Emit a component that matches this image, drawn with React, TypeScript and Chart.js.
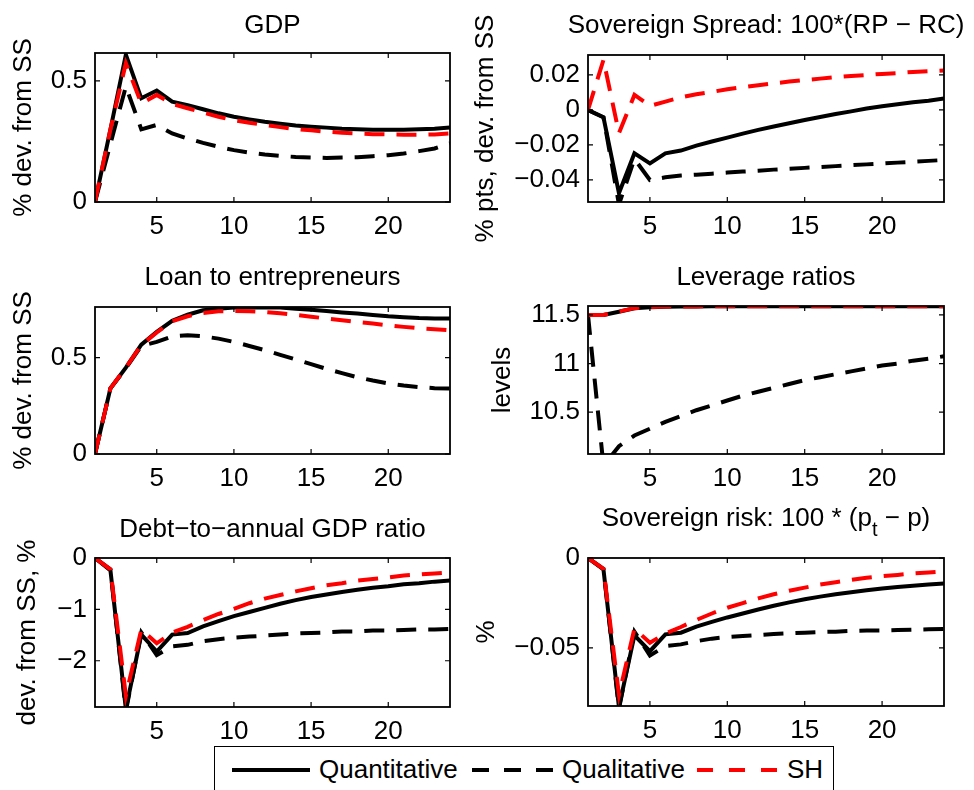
import { useEffect, useRef } from "react";
import { Chart, registerables } from "chart.js";

Chart.register(...registerables);

// ---------------- data ----------------
const periods = [1, 2, 3, 4, 5, 6, 7, 8, 9, 10, 11, 12, 13, 14, 15, 16, 17, 18, 19, 20, 21, 22, 23, 24];
const xTicks = [5, 10, 15, 20];

const gdpQuant = [0, 0.30, 0.608, 0.428, 0.46, 0.414, 0.40, 0.383, 0.366, 0.352, 0.341, 0.331, 0.323, 0.316, 0.311, 0.307, 0.302, 0.30, 0.298, 0.298, 0.298, 0.30, 0.302, 0.308];
const gdpQual = [0, 0.24, 0.477, 0.30, 0.318, 0.283, 0.262, 0.244, 0.228, 0.214, 0.204, 0.196, 0.19, 0.186, 0.184, 0.182, 0.184, 0.185, 0.189, 0.193, 0.20, 0.21, 0.221, 0.242];
const gdpSH = [0, 0.30, 0.573, 0.407, 0.442, 0.405, 0.387, 0.369, 0.352, 0.338, 0.327, 0.318, 0.309, 0.301, 0.296, 0.29, 0.286, 0.283, 0.28, 0.279, 0.278, 0.278, 0.279, 0.283];
const gdpTicks = [0, 0.5];
const gdpRange = [0, 0.615];

const spreadQuant = [0, -0.0042, -0.0476, -0.0248, -0.0305, -0.0248, -0.0232, -0.0204, -0.018, -0.0158, -0.0135, -0.0114, -0.0095, -0.0076, -0.0057, -0.004, -0.0023, -0.0008, 0.0008, 0.0021, 0.0032, 0.0044, 0.0053, 0.0065];
const spreadQual = [0, -0.0042, -0.054, -0.028, -0.040, -0.0385, -0.0375, -0.037, -0.0364, -0.0358, -0.0352, -0.0347, -0.0341, -0.0336, -0.0331, -0.0326, -0.0321, -0.0316, -0.0311, -0.0306, -0.0301, -0.0296, -0.0291, -0.0286];
const spreadSH = [0, 0.0286, -0.0133, 0.0086, 0.0023, 0.0048, 0.0072, 0.009, 0.0103, 0.0118, 0.013, 0.0141, 0.0152, 0.0162, 0.0171, 0.0179, 0.0187, 0.0194, 0.02, 0.0206, 0.0211, 0.0217, 0.0221, 0.0225];
const spreadTicks = [-0.04, -0.02, 0, 0.02];
const spreadRange = [-0.0526, 0.0314];

const loanQuant = [0, 0.34, 0.448, 0.567, 0.633, 0.69, 0.722, 0.745, 0.753, 0.759, 0.76, 0.76, 0.759, 0.753, 0.748, 0.741, 0.734, 0.728, 0.721, 0.714, 0.709, 0.705, 0.703, 0.703];
const loanQual = [0, 0.34, 0.445, 0.56, 0.581, 0.61, 0.616, 0.61, 0.598, 0.581, 0.56, 0.538, 0.514, 0.49, 0.466, 0.441, 0.419, 0.398, 0.381, 0.366, 0.355, 0.347, 0.341, 0.34];
const loanSH = [0, 0.34, 0.448, 0.565, 0.63, 0.688, 0.714, 0.731, 0.74, 0.741, 0.74, 0.736, 0.729, 0.721, 0.712, 0.702, 0.693, 0.684, 0.676, 0.667, 0.659, 0.652, 0.647, 0.641];
const loanTicks = [0, 0.5];
const loanRange = [0, 0.762];

const levQuant = [11.5, 11.5, 11.533, 11.568, 11.58, 11.585, 11.587, 11.588, 11.589, 11.589, 11.589, 11.589, 11.589, 11.589, 11.589, 11.589, 11.589, 11.589, 11.589, 11.589, 11.589, 11.589, 11.589, 11.589];
const levQual = [11.5, 9.95, 10.15, 10.26, 10.33, 10.40, 10.46, 10.52, 10.57, 10.62, 10.67, 10.71, 10.75, 10.79, 10.83, 10.86, 10.89, 10.92, 10.95, 10.98, 11.0, 11.03, 11.05, 11.075];
const levSH = [11.5, 11.5, 11.535, 11.57, 11.582, 11.586, 11.587, 11.588, 11.589, 11.589, 11.589, 11.589, 11.589, 11.589, 11.589, 11.589, 11.589, 11.589, 11.589, 11.589, 11.589, 11.589, 11.589, 11.589];
const levTicks = [10.5, 11, 11.5];
const levRange = [10.07, 11.592];

const debtQuant = [0, -0.24, -2.94, -1.49, -1.82, -1.49, -1.46, -1.33, -1.23, -1.13, -1.05, -0.97, -0.89, -0.82, -0.76, -0.71, -0.66, -0.62, -0.58, -0.55, -0.51, -0.49, -0.46, -0.44];
const debtQual = [0, -0.22, -2.98, -1.45, -1.89, -1.72, -1.69, -1.62, -1.58, -1.55, -1.53, -1.51, -1.49, -1.47, -1.46, -1.45, -1.43, -1.43, -1.41, -1.41, -1.40, -1.39, -1.39, -1.38];
const debtSH = [0, -0.22, -2.68, -1.39, -1.66, -1.45, -1.34, -1.21, -1.09, -0.99, -0.88, -0.79, -0.72, -0.65, -0.59, -0.53, -0.49, -0.44, -0.41, -0.38, -0.34, -0.32, -0.30, -0.28];
const debtTicks = [-2, -1, 0];
const debtRange = [-2.9, 0];

const riskQuant = [0, -0.0064, -0.083, -0.0431, -0.0519, -0.0425, -0.0416, -0.0382, -0.0356, -0.0331, -0.0309, -0.0287, -0.0266, -0.0247, -0.023, -0.0215, -0.0202, -0.0191, -0.018, -0.017, -0.0161, -0.0154, -0.0148, -0.0142];
const riskQual = [0, -0.006, -0.084, -0.041, -0.0543, -0.0491, -0.0481, -0.0463, -0.0449, -0.044, -0.0434, -0.0429, -0.0423, -0.0419, -0.0416, -0.0412, -0.041, -0.0406, -0.0404, -0.0403, -0.0401, -0.0399, -0.0397, -0.0395];
const riskSH = [0, -0.006, -0.0762, -0.0393, -0.0472, -0.042, -0.0384, -0.0345, -0.0309, -0.0277, -0.0251, -0.0225, -0.0202, -0.0182, -0.0165, -0.0148, -0.0135, -0.0122, -0.011, -0.0101, -0.0094, -0.0086, -0.0081, -0.0075];
const riskTicks = [-0.05, 0];
const riskRange = [-0.0824, 0];

const seriesNames = ["Quantitative", "Qualitative", "SH"];

// ---------------- styling / layout ----------------
const FONT = "'Liberation Sans', Arial, Helvetica, sans-serif";
const FS = 26;
const RED = "#ff0000";
const BLACK = "#000000";
const DASH = [20, 12];

type Seg = { text: string; sub?: boolean };
type Panel = {
  box: { x: number; y: number; w: number; h: number };
  plot: { l: number; t: number; r: number; b: number };
  title: Seg[];
  titleGap: number;
  yLabel: string;
  yLabelCenter: number;
  yTicks: number[];
  range: number[];
  quant: number[];
  qual: number[];
  sh: number[];
};

const L_BOX = { x: 0, w: 460 };
const R_BOX = { x: 460, w: 514 };

const panels: Panel[] = [
  {
    box: { x: L_BOX.x, y: 0, w: L_BOX.w, h: 250 },
    plot: { l: 95, t: 53, r: 450, b: 202 },
    title: [{ text: "GDP" }], titleGap: 20,
    yLabel: "% dev. from SS", yLabelCenter: 24,
    yTicks: gdpTicks, range: gdpRange, quant: gdpQuant, qual: gdpQual, sh: gdpSH,
  },
  {
    box: { x: R_BOX.x, y: 0, w: R_BOX.w, h: 250 },
    plot: { l: 588, t: 55, r: 944, b: 202 },
    title: [{ text: "Sovereign Spread: 100*(RP \u2212 RC)" }], titleGap: 22,
    yLabel: "% pts, dev. from SS", yLabelCenter: 486,
    yTicks: spreadTicks, range: spreadRange, quant: spreadQuant, qual: spreadQual, sh: spreadSH,
  },
  {
    box: { x: L_BOX.x, y: 250, w: L_BOX.w, h: 250 },
    plot: { l: 95, t: 307, r: 450, b: 454 },
    title: [{ text: "Loan to entrepreneurs" }], titleGap: 22,
    yLabel: "% dev. from SS", yLabelCenter: 24,
    yTicks: loanTicks, range: loanRange, quant: loanQuant, qual: loanQual, sh: loanSH,
  },
  {
    box: { x: R_BOX.x, y: 250, w: R_BOX.w, h: 250 },
    plot: { l: 588, t: 306, r: 944, b: 454 },
    title: [{ text: "Leverage ratios" }], titleGap: 21,
    yLabel: "levels", yLabelCenter: 503,
    yTicks: levTicks, range: levRange, quant: levQuant, qual: levQual, sh: levSH,
  },
  {
    box: { x: L_BOX.x, y: 500, w: L_BOX.w, h: 290 },
    plot: { l: 95, t: 558, r: 450, b: 707 },
    title: [{ text: "Debt\u2212to\u2212annual GDP ratio" }], titleGap: 21,
    yLabel: "dev. from SS, %", yLabelCenter: 28,
    yTicks: debtTicks, range: debtRange, quant: debtQuant, qual: debtQual, sh: debtSH,
  },
  {
    box: { x: R_BOX.x, y: 500, w: R_BOX.w, h: 290 },
    plot: { l: 588, t: 558, r: 944, b: 706 },
    title: [{ text: "Sovereign risk: 100 * (p" }, { text: "t", sub: true }, { text: " \u2212 p)" }], titleGap: 32,
    yLabel: "%", yLabelCenter: 487,
    yTicks: riskTicks, range: riskRange, quant: riskQuant, qual: riskQual, sh: riskSH,
  },
];

const fmt = (v: number) => (v < 0 ? "\u2212" + String(-v) : String(v));

// MATLAB-like box with inward ticks on all sides
const framePlugin = {
  id: "matlabFrame",
  afterDatasetsDraw(chart: any) {
    const { ctx, chartArea: a, scales } = chart;
    const xs = scales.x;
    const ys = scales.y;
    ctx.save();
    ctx.strokeStyle = BLACK;
    ctx.lineWidth = 1.2;
    ctx.beginPath();
    xs.ticks.forEach((t: any) => {
      const px = xs.getPixelForValue(t.value);
      ctx.moveTo(px, a.bottom);
      ctx.lineTo(px, a.bottom - 5);
      ctx.moveTo(px, a.top);
      ctx.lineTo(px, a.top + 5);
    });
    ys.ticks.forEach((t: any) => {
      const py = ys.getPixelForValue(t.value);
      ctx.moveTo(a.left, py);
      ctx.lineTo(a.left + 5, py);
      ctx.moveTo(a.right, py);
      ctx.lineTo(a.right - 5, py);
    });
    ctx.stroke();
    ctx.lineWidth = 1.8;
    ctx.strokeRect(a.left, a.top, a.right - a.left, a.bottom - a.top);
    ctx.restore();
  },
};

// Title with optional subscript segments
const titlePlugin = {
  id: "panelTitle",
  afterDraw(chart: any, _args: any, opts: any) {
    const segs: Seg[] = opts.segments || [];
    const a = chart.chartArea;
    const ctx = chart.ctx;
    const mainFont = `${FS}px ${FONT}`;
    const subFont = `${Math.round(FS * 0.78)}px ${FONT}`;
    ctx.save();
    let total = 0;
    segs.forEach((s) => {
      ctx.font = s.sub ? subFont : mainFont;
      total += ctx.measureText(s.text).width;
    });
    let x = (a.left + a.right) / 2 - total / 2;
    const base = a.top - opts.gap;
    ctx.fillStyle = BLACK;
    ctx.textBaseline = "alphabetic";
    ctx.textAlign = "left";
    segs.forEach((s) => {
      ctx.font = s.sub ? subFont : mainFont;
      ctx.fillText(s.text, x, s.sub ? base + 10 : base);
      x += ctx.measureText(s.text).width;
    });
    ctx.restore();
  },
};

function buildConfig(p: Panel): any {
  const pts = (arr: number[]) => periods.map((t, i) => ({ x: t, y: arr[i] }));
  const ds = (label: string, arr: number[], color: string, dash: number[], order: number) => ({
    label,
    data: pts(arr),
    borderColor: color,
    backgroundColor: color,
    borderWidth: 4,
    borderDash: dash,
    pointRadius: 0,
    tension: 0,
    fill: false,
    order,
    clip: 0,
  });
  const yWidth = p.plot.l - p.box.x;
  const xHeight = p.box.y + p.box.h - p.plot.b;
  return {
    type: "line",
    data: {
      datasets: [
        ds(seriesNames[0], p.quant, BLACK, [], 2),
        ds(seriesNames[1], p.qual, BLACK, DASH, 1),
        ds(seriesNames[2], p.sh, RED, DASH, 0),
      ],
    },
    options: {
      responsive: false,
      animation: false,
      events: [],
      layout: {
        padding: {
          left: 0,
          top: p.plot.t - p.box.y,
          right: p.box.x + p.box.w - p.plot.r,
          bottom: 0,
        },
      },
      plugins: {
        legend: { display: false },
        tooltip: { enabled: false },
        title: { display: false },
        panelTitle: { segments: p.title, gap: p.titleGap },
      },
      scales: {
        x: {
          type: "linear",
          min: periods[0],
          max: periods[periods.length - 1],
          afterBuildTicks: (s: any) => {
            s.ticks = xTicks.map((v) => ({ value: v }));
          },
          afterFit: (s: any) => {
            s.height = xHeight;
          },
          grid: { display: false, drawTicks: false },
          border: { display: false },
          ticks: {
            autoSkip: false,
            maxRotation: 0,
            padding: 9,
            color: BLACK,
            font: { family: FONT, size: FS },
          },
        },
        y: {
          type: "linear",
          min: p.range[0],
          max: p.range[1],
          afterBuildTicks: (s: any) => {
            s.ticks = p.yTicks.map((v) => ({ value: v }));
          },
          afterFit: (s: any) => {
            s.width = yWidth;
          },
          grid: { display: false, drawTicks: false },
          border: { display: false },
          ticks: {
            autoSkip: false,
            padding: 8,
            color: BLACK,
            font: { family: FONT, size: FS },
            callback: (v: number) => fmt(v),
          },
          title: {
            display: true,
            text: p.yLabel,
            color: BLACK,
            font: { family: FONT, size: FS },
            padding: { top: p.yLabelCenter - p.box.x - (FS * 1.2) / 2, bottom: 0 },
          },
        },
      },
    },
    plugins: [framePlugin, titlePlugin],
  };
}

export default function App() {
  const refs = useRef<(HTMLCanvasElement | null)[]>([]);

  useEffect(() => {
    const charts = panels.map((p, i) => new Chart(refs.current[i] as HTMLCanvasElement, buildConfig(p)));
    return () => {
      charts.forEach((c) => c.destroy());
    };
  }, []);

  const legendText = (text: string, left: number) => (
    <div
      style={{
        position: "absolute",
        left,
        top: 754,
        fontSize: FS,
        lineHeight: "30px",
        whiteSpace: "nowrap",
        color: BLACK,
        fontFamily: FONT,
      }}
    >
      {text}
    </div>
  );

  return (
    <div
      style={{
        position: "absolute",
        left: 0,
        top: 0,
        width: 974,
        height: 790,
        overflow: "hidden",
        background: "#ffffff",
        fontFamily: FONT,
      }}
    >
      {panels.map((p, i) => (
        <canvas
          key={i}
          ref={(el) => {
            refs.current[i] = el;
          }}
          width={p.box.w}
          height={p.box.h}
          style={{ position: "absolute", left: p.box.x, top: p.box.y, width: p.box.w, height: p.box.h }}
        />
      ))}
      <div
        style={{
          position: "absolute",
          left: 214,
          top: 746,
          width: 620,
          height: 60,
          border: "1.5px solid #000",
          background: "#ffffff",
          boxSizing: "border-box",
        }}
      />
      <svg style={{ position: "absolute", left: 0, top: 0 }} width={974} height={790}>
        <line x1={232} y1={770} x2={310} y2={770} stroke={BLACK} strokeWidth={4} />
        <line x1={472} y1={770} x2={553} y2={770} stroke={BLACK} strokeWidth={4} strokeDasharray="17 15" />
        <line x1={697} y1={770} x2={777} y2={770} stroke={RED} strokeWidth={4} strokeDasharray="16 16" />
      </svg>
      {legendText(seriesNames[0], 319)}
      {legendText(seriesNames[1], 562)}
      {legendText(seriesNames[2], 787)}
    </div>
  );
}
